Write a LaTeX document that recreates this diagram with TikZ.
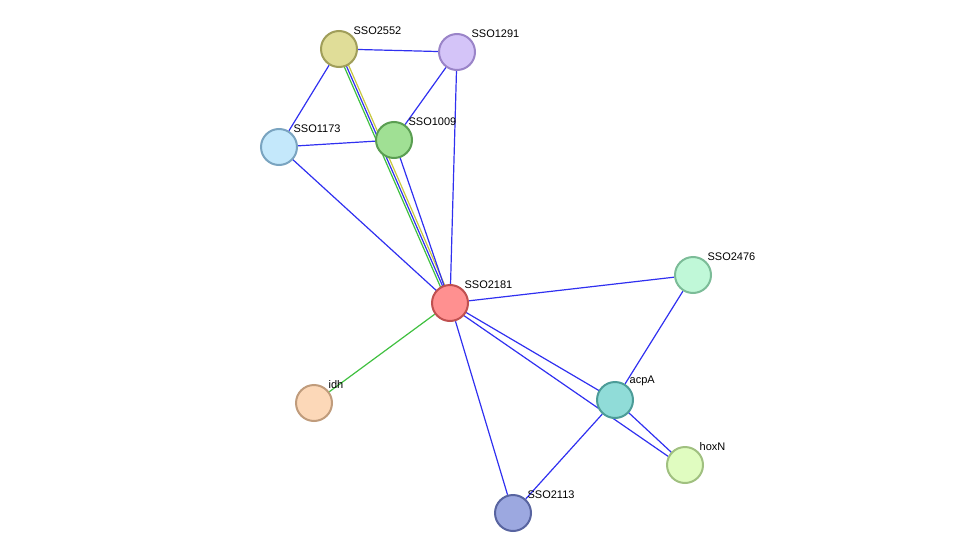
\documentclass[tikz,border=0pt]{standalone}
\usepackage{fontspec}
\setmainfont{Liberation Sans}
\usetikzlibrary{backgrounds}
\definecolor{eblue}{HTML}{3030F0}
\definecolor{egreen}{HTML}{40C040}
\definecolor{eyellow}{HTML}{C8C840}
\begin{document}
\begin{tikzpicture}[x=1pt, y=-1pt]
	\tikzset{prot/.style={circle, line width=2pt, minimum size=36pt, inner sep=0pt},
		lbl/.style={font=\fontsize{11}{12}\selectfont, inner sep=1pt},
		lien/.style={line width=1.2pt, eblue}};
	\useasboundingbox (0,0) rectangle (976,559);

	\node[prot, fill={rgb,255:red,224;green,221;blue,152}, draw={rgb,255:red,160;green,158;blue,90}, label={[lbl]45:SSO2552}] (n2552) at (339, 49) {};
	\node[prot, fill={rgb,255:red,212;green,196;blue,248}, draw={rgb,255:red,154;green,132;blue,200}, label={[lbl]45:SSO1291}] (n1291) at (457, 52) {};
	\node[prot, fill={rgb,255:red,196;green,232;blue,251}, draw={rgb,255:red,122;green,164;blue,192}, label={[lbl]45:SSO1173}] (n1173) at (279,147) {};
	\node[prot, fill={rgb,255:red,160;green,224;blue,148}, draw={rgb,255:red,90;green,158;blue,82}, label={[lbl]45:SSO1009}] (n1009) at (394,140) {};
	\node[prot, fill={rgb,255:red,255;green,144;blue,144}, draw={rgb,255:red,192;green,80;blue,80}, label={[lbl]45:SSO2181}] (n2181) at (450,303) {};
	\node[prot, fill={rgb,255:red,192;green,248;blue,216}, draw={rgb,255:red,124;green,188;blue,152}, label={[lbl]45:SSO2476}] (n2476) at (693,275) {};
	\node[prot, fill={rgb,255:red,252;green,216;blue,184}, draw={rgb,255:red,192;green,156;blue,124}, label={[lbl]45:idh}] (idh) at (314,403) {};
	\node[prot, fill={rgb,255:red,144;green,220;blue,216}, draw={rgb,255:red,76;green,156;blue,152}, label={[lbl]45:acpA}] (acpA) at (615,400) {};
	\node[prot, fill={rgb,255:red,224;green,252;blue,192}, draw={rgb,255:red,160;green,192;blue,128}, label={[lbl]45:hoxN}] (hoxN) at (685,465) {};
	\node[prot, fill={rgb,255:red,156;green,168;blue,224}, draw={rgb,255:red,88;green,100;blue,160}, label={[lbl]45:SSO2113}] (n2113) at (513,513) {};

	\begin{pgfonlayer}{background}
		\draw[lien, egreen] ([xshift=-2.5pt]n2552.center) -- ([xshift=-2.5pt]n2181.center);
		\draw[lien] (n2552.center) -- (n2181.center);
		\draw[lien, eyellow] ([xshift=2.5pt]n2552.center) -- ([xshift=2.5pt]n2181.center);
		\draw[lien] (n2552) -- (n1291);
		\draw[lien] (n2552) -- (n1173);
		\draw[lien] (n1291) -- (n1009);
		\draw[lien] (n1291.center) -- (n2181.center);
		\draw[lien] (n1173) -- (n1009);
		\draw[lien] (n1173.center) -- (n2181.center);
		\draw[lien] (n1009.center) -- (n2181.center);
		\draw[lien, egreen] (idh) -- (n2181);
		\draw[lien] (n2181) -- (n2476);
		\draw[lien] (n2181) -- (n2113);
		\draw[lien] (n2181.center) -- (acpA.center);
		\draw[lien] ([yshift=-3pt]n2181.center) -- ([yshift=-3pt]hoxN.center);
		\draw[lien] (acpA.center) -- (hoxN.center);
		\draw[lien] (n2476) -- (acpA);
		\draw[lien] (acpA) -- (n2113);
	\end{pgfonlayer}
\end{tikzpicture}
\end{document}
